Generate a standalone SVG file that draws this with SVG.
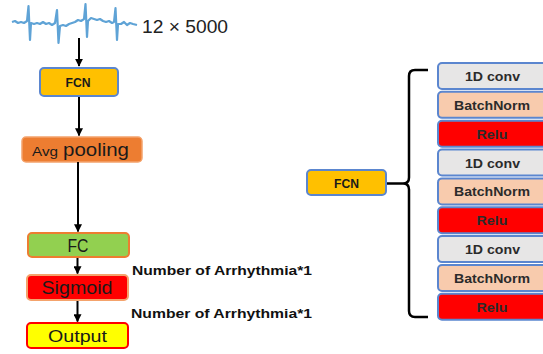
<svg xmlns="http://www.w3.org/2000/svg" width="543" height="354" viewBox="0 0 543 354">
  <defs>
    <marker id="arrow" viewBox="0 0 10 10" refX="9" refY="5" markerWidth="4" markerHeight="4" markerUnits="strokeWidth" orient="auto">
      <path d="M0,0 L10,5 L0,10 z" fill="#000"/>
    </marker>
    <style>
      .lbl { font-family: "Liberation Sans", Arial, sans-serif; fill: #1a1a1a; text-anchor: middle; }
      .bold { font-weight: bold; }
      .conn { stroke: #000; stroke-width: 2; fill: none; }
      .layer { stroke: #5B86CF; stroke-width: 2; }
      .conv { fill: #E7E6E6; }
      .bn { fill: #F8CBAD; }
      .relu { fill: #FF0000; }
      .ltxt { font-family: "Liberation Sans", Arial, sans-serif; font-weight: bold; font-size: 13px; fill: #2b2b2b; text-anchor: middle; }
      .note { font-family: "Liberation Sans", Arial, sans-serif; font-weight: bold; font-size: 13.5px; fill: #111; }
    </style>
  </defs>
  <rect width="543" height="354" fill="#fff"/>

  <!-- input signal -->
  <g id="ecg">
    <path d="M12,22 L15,21 L18,23 L21,22 L24,23 L27,21 L28.5,6 L30,40 L31,23 L34,24 L37,23 L40,24 L43,22 L46,24 L49,23 L52,25 L55,23 L57,10 L58.5,43 L60,26 L63,25 L66,26 L69,24 L72,23 L75,22 L78,20 L81,21 L84,19 L85.5,4 L87,37 L88,21 L91,18 L94,19 L97,20 L100,19 L103,21 L106,22 L109,21 L112,23 L114,22 L115.5,8 L117,40 L118,24 L121,24 L124,22 L127,25 L130,23 L133,24 L137,25" fill="none" stroke="#5FA3D6" stroke-width="2.2" stroke-linejoin="round"/>
    <text x="142" y="33" font-family="'Liberation Sans', Arial, sans-serif" font-size="18" fill="#222" textLength="86" lengthAdjust="spacingAndGlyphs">12 × 5000</text>
  </g>

  <!-- left pipeline -->
  <g id="fcn-main">
    <rect x="40" y="68" width="78" height="28" rx="4" fill="#FFC000" stroke="#5B86CF" stroke-width="2"/>
    <text class="lbl bold" x="78" y="87" font-size="12.5" textLength="25" lengthAdjust="spacingAndGlyphs">FCN</text>
  </g>
  <g id="avg-pooling">
    <rect x="22" y="137" width="120" height="25" rx="4" fill="#ED7D31" stroke="#F4A36C" stroke-width="1.5"/>
    <text x="32" y="156" font-family="'Liberation Sans', Arial, sans-serif" font-size="13" fill="#1a1a1a" textLength="26" lengthAdjust="spacingAndGlyphs">Avg</text>
    <text x="63" y="156" font-family="'Liberation Sans', Arial, sans-serif" font-size="18" fill="#1a1a1a" textLength="66" lengthAdjust="spacingAndGlyphs">pooling</text>
  </g>
  <g id="fc">
    <rect x="28" y="233" width="101" height="24" rx="4" fill="#92D050" stroke="#ED7D31" stroke-width="2"/>
    <text class="lbl" x="78" y="251.5" font-size="17.5" textLength="21" lengthAdjust="spacingAndGlyphs">FC</text>
  </g>
  <g id="sigmoid">
    <rect x="27" y="275" width="101" height="25" rx="4" fill="#FF0000" stroke="#F4A36C" stroke-width="2"/>
    <text class="lbl" x="77" y="294" font-size="18" textLength="71" lengthAdjust="spacingAndGlyphs">Sigmoid</text>
  </g>
  <g id="output">
    <rect x="27" y="323" width="101" height="25" rx="4" fill="#FFFF00" stroke="#FF0000" stroke-width="2"/>
    <text class="lbl" x="77.5" y="341.5" font-size="17" textLength="59" lengthAdjust="spacingAndGlyphs">Output</text>
  </g>
  <text class="note" x="132" y="275" textLength="180" lengthAdjust="spacingAndGlyphs">Number of Arrhythmia*1</text>
  <text class="note" x="131" y="318" textLength="181" lengthAdjust="spacingAndGlyphs">Number of Arrhythmia*1</text>

  <!-- FCN detail -->
  <g id="fcn-detail">
    <rect x="307" y="170" width="79" height="25" rx="4" fill="#FFC000" stroke="#5B86CF" stroke-width="2"/>
    <text class="lbl bold" x="346.5" y="187.5" font-size="12.5" textLength="25" lengthAdjust="spacingAndGlyphs">FCN</text>
  </g>
  <g id="layer1"><rect class="layer conv" x="438" y="63" width="110" height="26" rx="4"/><text class="ltxt" x="492.5" y="81" textLength="55" lengthAdjust="spacingAndGlyphs">1D conv</text></g>
  <g id="layer2"><rect class="layer bn" x="438" y="91.85" width="110" height="26" rx="4"/><text class="ltxt" x="492" y="109.8" textLength="76" lengthAdjust="spacingAndGlyphs">BatchNorm</text></g>
  <g id="layer3"><rect class="layer relu" x="438" y="120.7" width="110" height="26" rx="4"/><text class="ltxt" x="492" y="138.7" textLength="31" lengthAdjust="spacingAndGlyphs">Relu</text></g>
  <g id="layer4"><rect class="layer conv" x="438" y="149.55" width="110" height="26" rx="4"/><text class="ltxt" x="492.5" y="167.5" textLength="55" lengthAdjust="spacingAndGlyphs">1D conv</text></g>
  <g id="layer5"><rect class="layer bn" x="438" y="178.4" width="110" height="26" rx="4"/><text class="ltxt" x="492" y="196.4" textLength="76" lengthAdjust="spacingAndGlyphs">BatchNorm</text></g>
  <g id="layer6"><rect class="layer relu" x="438" y="207.25" width="110" height="26" rx="4"/><text class="ltxt" x="492" y="225.2" textLength="31" lengthAdjust="spacingAndGlyphs">Relu</text></g>
  <g id="layer7"><rect class="layer conv" x="438" y="236.1" width="110" height="26" rx="4"/><text class="ltxt" x="492.5" y="254.1" textLength="55" lengthAdjust="spacingAndGlyphs">1D conv</text></g>
  <g id="layer8"><rect class="layer bn" x="438" y="264.95" width="110" height="26" rx="4"/><text class="ltxt" x="492" y="282.9" textLength="76" lengthAdjust="spacingAndGlyphs">BatchNorm</text></g>
  <g id="layer9"><rect class="layer relu" x="438" y="293.8" width="110" height="26" rx="4"/><text class="ltxt" x="492" y="311.8" textLength="31" lengthAdjust="spacingAndGlyphs">Relu</text></g>

  <!-- connectors -->
  <g id="connectors">
    <line class="conn" x1="79" y1="38" x2="79" y2="66" marker-end="url(#arrow)"/>
    <line class="conn" x1="79" y1="97" x2="79" y2="135.5" marker-end="url(#arrow)"/>
    <line class="conn" x1="78" y1="162" x2="78" y2="231.5" marker-end="url(#arrow)"/>
    <line class="conn" x1="77.5" y1="258" x2="77.5" y2="273.5" marker-end="url(#arrow)"/>
    <line class="conn" x1="77.5" y1="301" x2="77.5" y2="321.5" marker-end="url(#arrow)"/>
    <line x1="387" y1="183.5" x2="403" y2="183.5" stroke="#000" stroke-width="2.5"/>
    <path d="M428,70 H415 Q409,70 409,76 V177.5 Q409,183.5 403,183.5 Q409,183.5 409,189.5 V311 Q409,317 415,317 H428" fill="none" stroke="#000" stroke-width="2.5"/>
  </g>
</svg>
